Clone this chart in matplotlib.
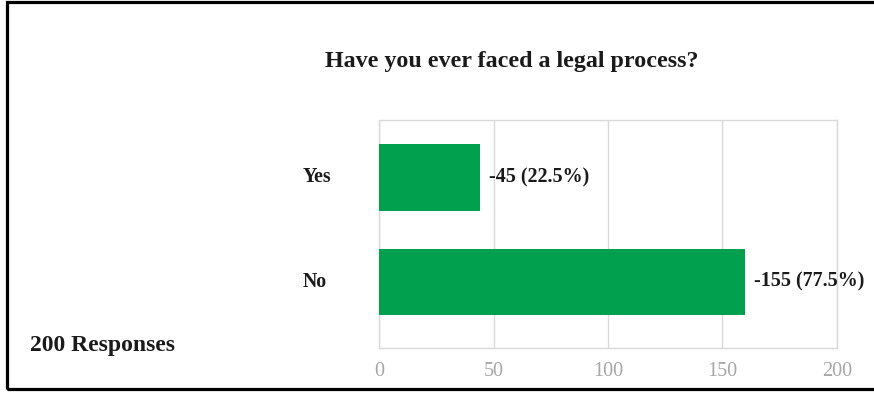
import matplotlib
matplotlib.use('Agg')
from matplotlib import pyplot as plt
from matplotlib.patches import Rectangle
from matplotlib.transforms import blended_transform_factory

# data
categories = ['No', 'Yes']
bar_lengths = [160, 44]        # drawn bar lengths (as they appear)
label_counts = [155, 45]       # counts printed next to the bars
total_responses = 200
x_ticks = [0, 50, 100, 150, 200]

title = 'Have you ever faced a legal process?'
bar_colour = '#00A04F'
grid_colour = '#D9D9D9'
tick_colour = '#A6A6A6'
text_colour = '#1a1a1a'

W, H = 874, 394
plt.rcParams['font.family'] = ['Liberation Serif', 'DejaVu Serif']

fig = plt.figure(figsize=(W / 100, H / 100), dpi=100)
ax = fig.add_axes([379.3 / W, 1 - 347.7 / H, (836.7 - 379.3) / W, (347.7 - 120) / H])

y_pos = list(range(len(categories)))
ax.barh(y_pos, bar_lengths, height=0.633, color=bar_colour, zorder=3)

for y, length, count in zip(y_pos, bar_lengths, label_counts):
    pct = count / total_responses * 100
    ax.annotate(f'-{count} ({pct:.1f}%)', (length, y), xytext=(6.5, 0), textcoords='offset points',
                ha='left', va='center', fontsize=14.4, fontweight='bold', color=text_colour)

ax.set_xlim(0, 200)
ax.set_ylim(-0.629, 1.55)
ax.set_xticks(x_ticks)
ax.set_xticklabels([str(t) for t in x_ticks], fontsize=14.5, color=tick_colour)
ax.tick_params(axis='x', length=0, pad=10)
ax.set_yticks([])
ax.grid(axis='x', color=grid_colour, linewidth=1, zorder=0)
for s in ax.spines.values():
    s.set_color(grid_colour)
    s.set_linewidth(1)

# category labels, left aligned like the reference
label_trans = blended_transform_factory(fig.transFigure, ax.transData)
for y, cat in zip(y_pos, categories):
    ax.text(303 / W, y, cat, transform=label_trans,
            ha='left', va='center', fontsize=14.3, fontweight='bold', color=text_colour)

fig.text(512 / W, 1 - 61 / H, title, ha='center', va='center', fontsize=17.3, fontweight='bold', color=text_colour)
fig.text(30 / W, 1 - 346 / H, f'{total_responses} Responses', ha='left', va='center',
         fontsize=17, fontweight='bold', color=text_colour)

# black frame around the image (open at the right edge)
fig.patches.append(Rectangle((7 / W, 5.5 / H), 1.0, (392.5 - 5.5) / H, transform=fig.transFigure,
                             fill=False, edgecolor='black', linewidth=2.3))

fig.savefig('out.png', dpi=100)
